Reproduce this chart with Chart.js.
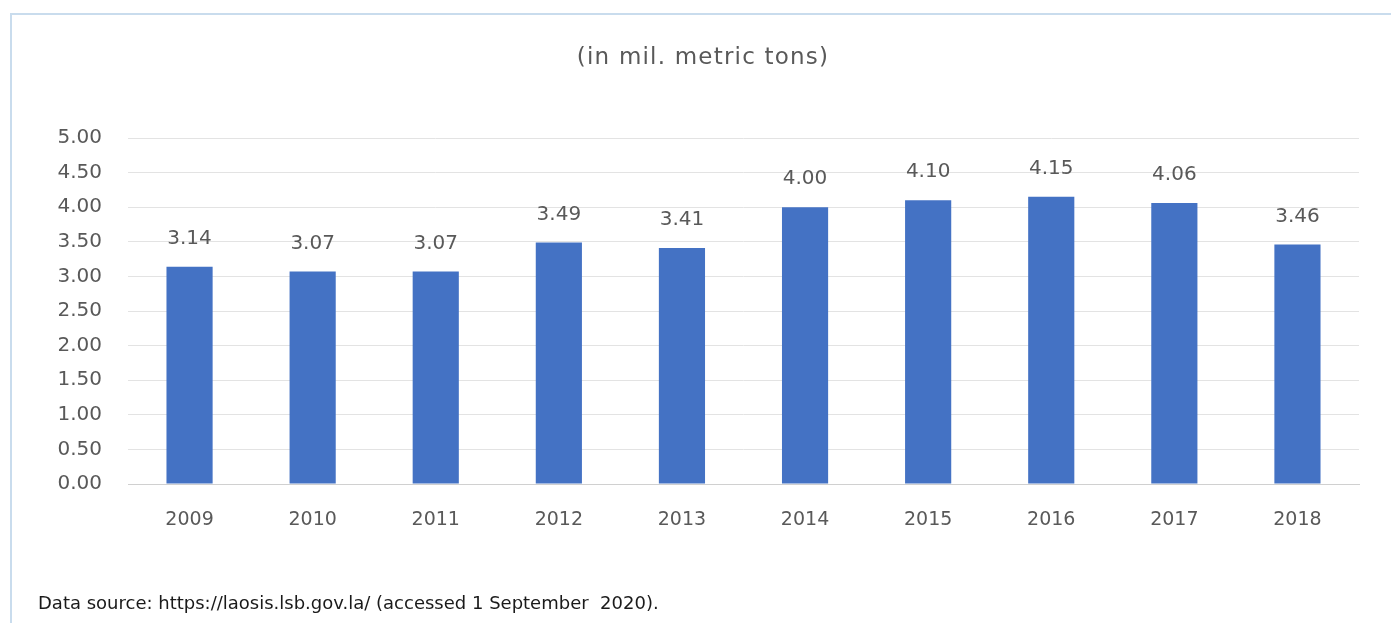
<!DOCTYPE html>
<html>
<head>
<meta charset="utf-8">
<script src="https://cdn.jsdelivr.net/npm/chart.js@4/dist/chart.umd.min.js"></script>
<style>
  html, body { margin: 0; padding: 0; background: #ffffff; }
  #wrap { position: relative; width: 1391px; height: 623px; overflow: hidden; }
  #frame { position: absolute; left: 10px; top: 13px; width: 1400px; height: 700px;
           border-left: 2px solid #c9dced; border-top: 2px solid #c9dced; box-sizing: border-box; }
  #c { position: absolute; left: 0; top: 0; }
  #title { position: absolute; left: 503px; width: 400px; top: 43px; text-align: center;
           font-family: "DejaVu Sans", sans-serif; font-size: 23px; line-height: 27px;
           letter-spacing: 1.2px; color: #595959; white-space: pre; }
  #source { position: absolute; left: 38px; top: 592px; font-family: "DejaVu Sans", sans-serif;
            font-size: 18px; color: #1a1a1a; white-space: pre; }
</style>
</head>
<body>
<div id="wrap">
  <div id="frame"></div>
  <canvas id="c" width="1391" height="623"></canvas>
  <div id="title"></div>
  <div id="source">Data source: https://laosis.lsb.gov.la/ (accessed 1 September  2020).</div>
</div>
<script>
const years = ["2009","2010","2011","2012","2013","2014","2015","2016","2017","2018"];
const production = [3.14, 3.07, 3.07, 3.49, 3.41, 4.00, 4.10, 4.15, 4.06, 3.46];
const titleText = "(in mil. metric tons)";

document.getElementById('title').textContent = titleText;

const FONT = '"DejaVu Sans", sans-serif';
const GRAY = '#595959';

const valueLabels = {
  id: 'valueLabels',
  afterDatasetsDraw(chart) {
    const ctx = chart.ctx;
    const meta = chart.getDatasetMeta(0);
    ctx.save();
    ctx.font = '20px ' + FONT;
    ctx.fillStyle = GRAY;
    ctx.textAlign = 'center';
    ctx.textBaseline = 'middle';
    meta.data.forEach((bar, i) => {
      ctx.fillText(production[i].toFixed(2), bar.x, bar.y - 28);
    });
    ctx.restore();
  }
};

new Chart(document.getElementById('c'), {
  type: 'bar',
  data: {
    labels: years,
    datasets: [{
      data: production,
      backgroundColor: '#4472C4',
      borderWidth: 0,
      barPercentage: 0.375,
      categoryPercentage: 1.0
    }]
  },
  options: {
    responsive: false,
    animation: false,
    devicePixelRatio: 1,
    layout: { padding: { left: 0, right: 32, top: 138, bottom: 94 } },
    plugins: {
      legend: { display: false },
      tooltip: { enabled: false },
      title: { display: false }
    },
    scales: {
      x: {
        grid: { display: false, drawTicks: false },
        border: { display: true, color: '#d0d0d0', width: 1 },
        ticks: { color: GRAY, font: { family: FONT, size: 19 }, padding: 25 },
        afterFit(scale) { scale.height = 45; }
      },
      y: {
        min: 0, max: 5,
        grid: { color: '#e3e3e3', drawTicks: false },
        border: { display: false },
        ticks: {
          stepSize: 0.5,
          color: GRAY,
          font: { family: FONT, size: 20 },
          padding: 26,
          callback: v => Number(v).toFixed(2)
        },
        afterFit(scale) { scale.width = 128; }
      }
    }
  },
  plugins: [valueLabels]
});
</script>
</body>
</html>
